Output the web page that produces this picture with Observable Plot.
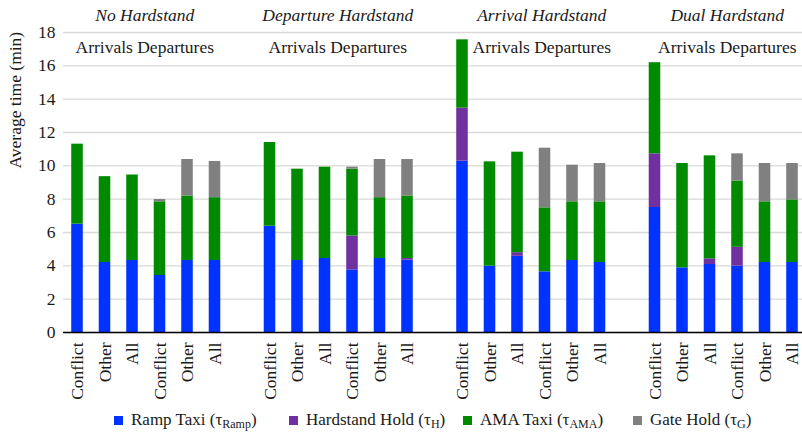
<!DOCTYPE html>
<html><head><meta charset="utf-8">
<script src="https://cdn.jsdelivr.net/npm/d3@7"></script>
<script src="https://cdn.jsdelivr.net/npm/@observablehq/plot@0.6"></script>
<style>
body{margin:0;background:#fff;font-family:"Liberation Serif","Times New Roman",Tinos,"DejaVu Serif",serif;}
#legend{position:relative;height:33px;width:802px;font-size:17px;color:#1a1a1a;}
.item{position:absolute;top:5px;display:flex;align-items:center;white-space:nowrap;line-height:20px}
.sw{width:9px;height:9px;margin-right:8px;display:inline-block}
.sub{font-size:12px;position:relative;top:4px}
</style></head><body>
<div id="chart"></div><div id="legend"></div>
<script>
const groups = ["No Hardstand", "Departure Hardstand", "Arrival Hardstand", "Dual Hardstand"];
const cases = ["Conflict", "Other", "All", "Conflict", "Other", "All"];
const components = ["Ramp Taxi", "Hardstand Hold", "AMA Taxi", "Gate Hold"];
const componentSymbols = ["Ramp", "H", "AMA", "G"];
const colors = ["#0033ff", "#7030a0", "#008a00", "#808080"];
const yTicks = [0, 2, 4, 6, 8, 10, 12, 14, 16, 18];

// segment values (min) per group, per case
const rampTaxi = [
  [6.50, 4.20, 4.32, 3.42, 4.32, 4.32],
  [6.38, 4.32, 4.44, 3.76, 4.44, 4.34],
  [10.28, 3.98, 4.57, 3.64, 4.32, 4.20],
  [7.50, 3.88, 4.08, 3.98, 4.20, 4.20]
];
const hardstandHold = [
  [0, 0, 0, 0, 0, 0],
  [0, 0, 0, 2.03, 0, 0.10],
  [3.18, 0, 0.22, 0, 0, 0],
  [3.22, 0, 0.34, 1.13, 0, 0]
];
const amaTaxi = [
  [4.80, 5.15, 5.13, 4.42, 3.87, 3.77],
  [5.02, 5.48, 5.48, 4.01, 3.65, 3.75],
  [4.10, 6.26, 6.03, 3.84, 3.52, 3.64],
  [5.47, 6.26, 6.18, 3.98, 3.64, 3.76]
];
const gateHold = [
  [0, 0, 0, 0.14, 2.19, 2.17],
  [0, 0, 0, 0.12, 2.29, 2.19],
  [0, 0, 0, 3.58, 2.20, 2.30],
  [0, 0, 0, 1.63, 2.30, 2.18]
];
const series = [rampTaxi, hardstandHold, amaTaxi, gateHold];

const domain = [];
groups.forEach((g, gi) => {
  cases.forEach((c, ci) => domain.push(`${gi}-${ci}`));
  if (gi < groups.length - 1) domain.push(`gap${gi}`);
});
const barKeys = domain.filter(k => !k.startsWith("gap"));
const rows = [];
groups.forEach((g, gi) => cases.forEach((c, ci) => series.forEach((s, si) =>
  rows.push({key: `${gi}-${ci}`, component: components[si], value: s[gi][ci]}))));

const step = 27.5;
const titleShift = [-1.5, -1, 10.5, 3.5];
const textMarks = [];
groups.forEach((g, gi) => {
  textMarks.push(Plot.text([g], {x: () => `${gi}-2`, y: () => 19.02, text: d => d, dx: step / 2 + titleShift[gi], fontStyle: "italic", fill: "#1a1a1a"}));
  textMarks.push(Plot.text(["Arrivals Departures"], {x: () => `${gi}-2`, y: () => 17.1, text: d => d, dx: step / 2 + titleShift[gi], fill: "#1a1a1a"}));
});

const chart = Plot.plot({
  width: 802, height: 405,
  marginLeft: 63, marginRight: 0, marginTop: 32, marginBottom: 73,
  style: {fontFamily: "'Liberation Serif','Times New Roman',Tinos,'DejaVu Serif',serif", fontSize: "17.5px", color: "#1a1a1a", background: "white"},
  x: {type: "band", domain, range: [63.25, 805.75], paddingInner: 0.58, paddingOuter: 0.29, round: false},
  y: {domain: [0, 18]},
  color: {domain: components, range: colors},
  marks: [
    Plot.gridY({ticks: yTicks, stroke: "#d9d9d9", strokeOpacity: 1, strokeWidth: 1.3}),
    Plot.axisY({ticks: yTicks, tickSize: 0, tickPadding: 8, label: null, tickFormat: d => d}),
    Plot.axisX({ticks: barKeys, tickSize: 0, tickPadding: 10, tickRotate: -90, label: null,
      tickFormat: k => cases[+k.split("-")[1]]}),
    Plot.barY(rows, {x: "key", y: "value", fill: "component"}),
    Plot.ruleY([0], {stroke: "#000", strokeWidth: 1.5}),
    ...textMarks,
    Plot.text(["Average time (min)"], {frameAnchor: "left", rotate: -90, dx: -48, dy: -14, text: d => d, fill: "#1a1a1a"})
  ]
});
document.getElementById("chart").appendChild(chart);

const legendLeft = [114, 289, 463, 633];
const legend = document.getElementById("legend");
components.forEach((c, i) => {
  const item = document.createElement("div");
  item.className = "item";
  item.style.left = legendLeft[i] + "px";
  item.innerHTML = `<span class="sw" style="background:${colors[i]}"></span>${c} (τ<span class="sub">${componentSymbols[i]}</span>)`;
  legend.appendChild(item);
});
</script>
</body></html>
